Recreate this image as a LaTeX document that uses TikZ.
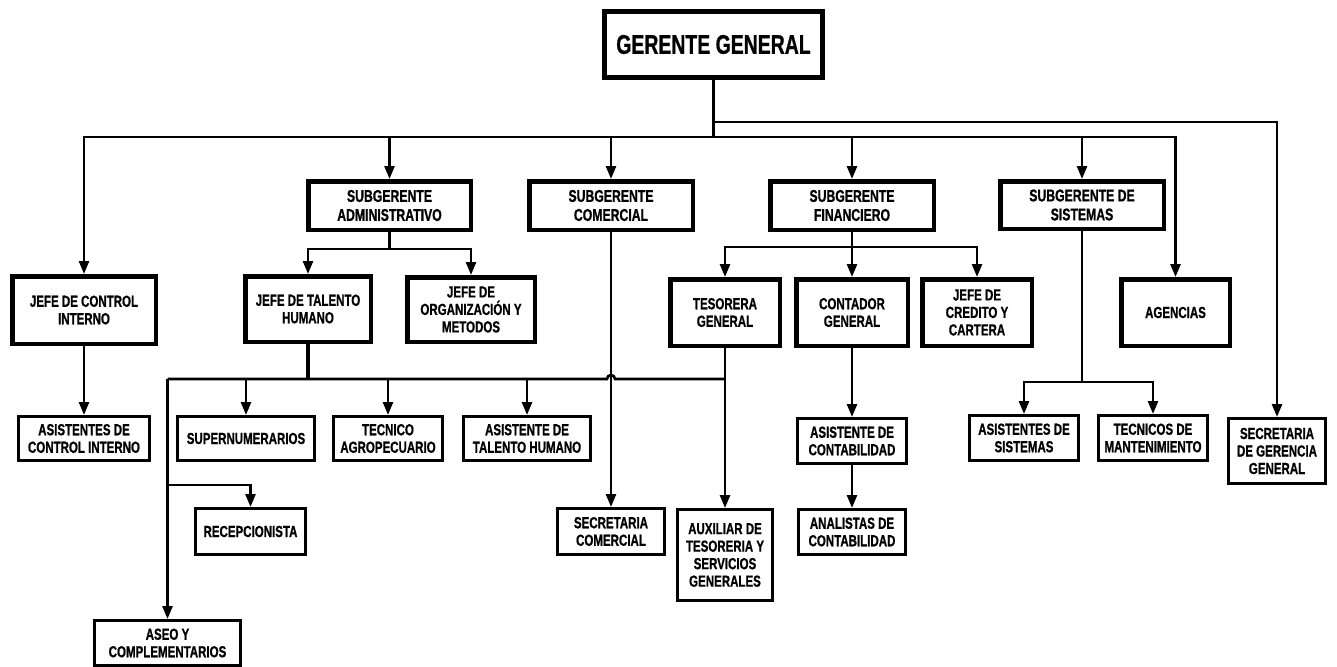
\documentclass[tikz,border=0pt]{standalone}
\usepackage{fontspec}
\setmainfont{Liberation Sans}[FakeStretch=0.72, BoldFeatures={FakeBold=0.8}]
\usetikzlibrary{arrows.meta}

\newcommand\fsmall{\fontsize{16}{17.5}\selectfont\bfseries}
\newcommand\fmid{\fontsize{17}{19}\selectfont\bfseries}
\newcommand\fbig{\fontsize{27}{30}\selectfont\bfseries}

% #1 style, #2 border width, #3 name, #4-#7 outer corners (x1,y1,x2,y2), #8 text
\newcommand\orgbox[8]{%
  \pgfmathsetmacro\bcx{(#4+#6)/2}%
  \pgfmathsetmacro\bcy{(#5+#7)/2}%
  \pgfmathsetmacro\bwd{#6-#4-#2}%
  \pgfmathsetmacro\bht{#7-#5-#2}%
  \node[#1, line width=#2pt, minimum width=\bwd pt, minimum height=\bht pt] (#3) at (\bcx,\bcy) {#8};%
}

\tikzset{
  boxtext/.style={align=center, inner sep=0pt, font=\fsmall},
  heavybox/.style={draw, boxtext},
  lightbox/.style={draw, boxtext},
  conn/.style={line width=2.6pt},
  arr/.style={conn, -{Triangle[length=13pt,width=10pt]}},
}

\begin{document}
\begin{tikzpicture}[x=1pt,y=-1pt]
\useasboundingbox (0,0) rectangle (1337,666);

% top of the chart
\orgbox{heavybox, font=\fbig}{5}{GG}{602}{9}{825}{80}{GERENTE GENERAL}

% deputy managers
\orgbox{heavybox, font=\fmid}{4.5}{SA}{306}{179}{473}{232}{SUBGERENTE\\ADMINISTRATIVO}
\orgbox{heavybox, font=\fmid}{4.5}{SC}{527}{179}{695}{232}{SUBGERENTE\\COMERCIAL}
\orgbox{heavybox, font=\fmid}{4.5}{SF}{768}{179}{936}{232}{SUBGERENTE\\FINANCIERO}
\orgbox{heavybox, font=\fmid}{4.5}{SS}{998}{179}{1166}{231}{SUBGERENTE DE\\SISTEMAS}

% heads
\orgbox{heavybox}{4.5}{JCI}{10}{274}{158}{346}{JEFE DE CONTROL\\INTERNO}
\orgbox{heavybox}{4.5}{JTH}{243}{274}{373}{344}{JEFE DE TALENTO\\HUMANO}
\orgbox{heavybox}{4.5}{JOM}{405}{275}{537}{344}{JEFE DE\\ORGANIZACIÓN Y\\METODOS}
\orgbox{heavybox}{4.5}{TG}{668}{277}{782}{348}{TESORERA\\GENERAL}
\orgbox{heavybox}{4.5}{CG}{794}{277}{910}{348}{CONTADOR\\GENERAL}
\orgbox{heavybox}{4.5}{JCC}{920}{277}{1034}{348}{JEFE DE\\CREDITO Y\\CARTERA}
\orgbox{heavybox}{4.5}{AG}{1119}{277}{1232}{348}{AGENCIAS}

% staff
\orgbox{lightbox}{2.6}{ACI}{17}{415}{151}{462}{ASISTENTES DE\\CONTROL INTERNO}
\orgbox{lightbox}{2.6}{SUP}{176}{415}{316}{462}{SUPERNUMERARIOS}
\orgbox{lightbox}{2.6}{TA}{332}{415}{444}{462}{TECNICO\\AGROPECUARIO}
\orgbox{lightbox}{2.6}{ATH}{462}{415}{592}{462}{ASISTENTE DE\\TALENTO HUMANO}
\orgbox{lightbox}{2.6}{AC}{796}{417}{908}{465}{ASISTENTE DE\\CONTABILIDAD}
\orgbox{lightbox}{2.6}{AS}{968}{414}{1080}{462}{ASISTENTES DE\\SISTEMAS}
\orgbox{lightbox}{2.6}{TM}{1097}{414}{1209}{462}{TECNICOS DE\\MANTENIMIENTO}
\orgbox{lightbox}{2.6}{SGG}{1227}{417}{1327}{485}{SECRETARIA\\DE GERENCIA\\GENERAL}
\orgbox{lightbox}{2.6}{REC}{194}{507}{307}{556}{RECEPCIONISTA}
\orgbox{lightbox}{2.6}{SCO}{556}{507}{666}{556}{SECRETARIA\\COMERCIAL}
\orgbox{lightbox}{2.6}{AUX}{676}{508}{774}{602}{AUXILIAR DE\\TESORERIA Y\\SERVICIOS\\GENERALES}
\orgbox{lightbox}{2.6}{ANA}{797}{508}{907}{556}{ANALISTAS DE\\CONTABILIDAD}
\orgbox{lightbox}{2.6}{ASEO}{93}{619}{242}{667}{ASEO Y\\COMPLEMENTARIOS}

% bus levels
\coordinate (busA) at (713,122);
\coordinate (busB) at (713,137);
\coordinate (sab)  at (390,249);
\coordinate (sfb)  at (852,247);
\coordinate (thb)  at (308,379);
\coordinate (rcb)  at (167,485);
\coordinate (ssb)  at (1082,382);

% general manager
\draw[conn] (GG.south) -- (GG.south |- busB);
\draw[arr] (GG.south |- busA) -| (SGG.north);
\draw[arr] (GG.south |- busB) -| (JCI.north);
\draw[arr] (GG.south |- busB) -| (AG.north);
\foreach \n in {SA,SC,SF,SS}
  \draw[arr] (\n.north |- busB) -- (\n.north);

% control interno
\draw[arr] (JCI.south) -- (ACI.north);

% administrative branch
\draw[conn] (SA.south) -- (SA.south |- sab);
\draw[arr] (SA.south |- sab) -| (JTH.north);
\draw[arr] (SA.south |- sab) -| (JOM.north);

% talento humano bus with a hop over the commercial line
\draw[line width=4pt] (JTH.south) -- (thb);
\draw[conn] (ASEO.north |- thb) -- ([xshift=-4pt]SC.south |- thb)
  arc[start angle=180, end angle=0, radius=4pt] -- (TG.south |- thb);
\foreach \n in {SUP,TA,ATH}
  \draw[arr] (\n.north |- thb) -- (\n.north);
\draw[arr] (ASEO.north |- thb) -- (ASEO.north);
\draw[arr] (ASEO.north |- rcb) -| (REC.north);

% commercial branch
\draw[arr] (SC.south) -- (SCO.north);

% financial branch
\draw[arr] (SF.south) -- (CG.north);
\draw[arr] (SF.south |- sfb) -| (TG.north);
\draw[arr] (SF.south |- sfb) -| (JCC.north);
\draw[arr] (TG.south) -- (AUX.north);
\draw[arr] (CG.south) -- (AC.north);
\draw[arr] (AC.south) -- (ANA.north);

% systems branch
\draw[conn] (SS.south) -- (SS.south |- ssb);
\draw[arr] (SS.south |- ssb) -| (AS.north);
\draw[arr] (SS.south |- ssb) -| (TM.north);
\end{tikzpicture}
\end{document}
